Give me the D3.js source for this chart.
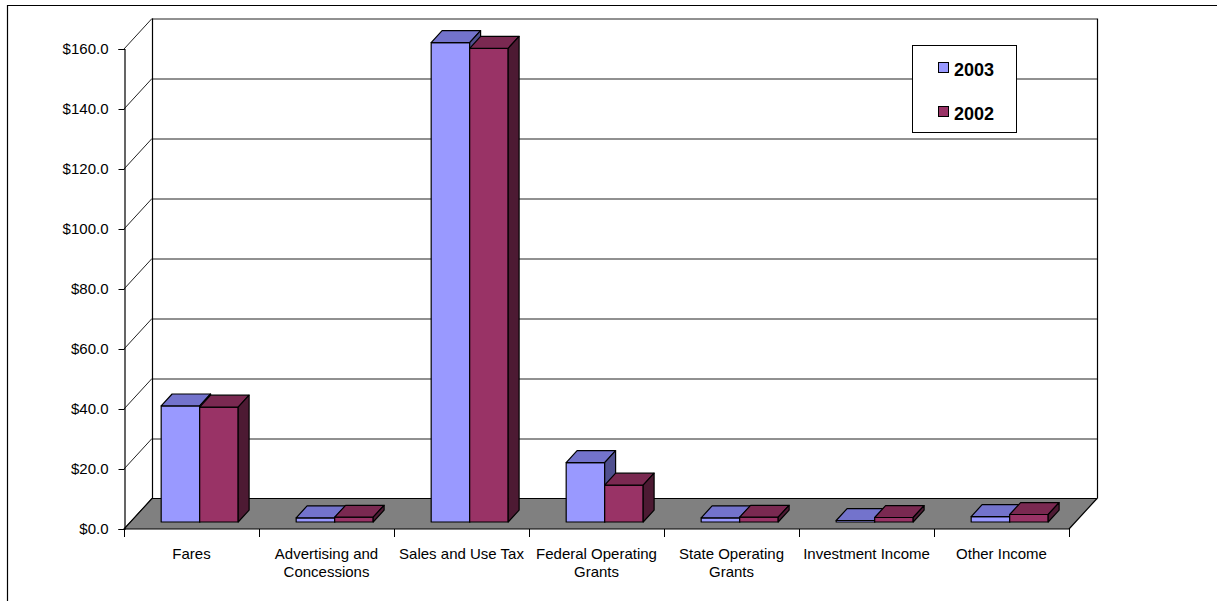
<!DOCTYPE html>
<html>
<head>
<meta charset="utf-8">
<script src="https://cdn.jsdelivr.net/npm/d3@7"></script>
<style>
  html, body { margin: 0; padding: 0; background: #fff; }
  svg { display: block; }
  text { font-family: "Liberation Sans", Arial, sans-serif; fill: #000; }
</style>
</head>
<body>
<svg id="chart" width="1217" height="601"></svg>
<script>
// Operating revenue by source, in millions of dollars
const categories = [
  "Fares",
  "Advertising and\nConcessions",
  "Sales and Use Tax",
  "Federal Operating\nGrants",
  "State Operating\nGrants",
  "Investment Income",
  "Other Income"
];
const seriesNames = ["2003", "2002"];
const values2003 = [38.7, 1.4, 159.8, 19.8, 1.4, 0.5, 1.8];
const values2002 = [38.3, 1.6, 157.9, 12.3, 1.6, 1.5, 2.5];
const yTicks = [0, 20, 40, 60, 80, 100, 120, 140, 160];

const colors = {
  "2003": { front: "#9999FF", top: "#7373CC", side: "#50508F" },
  "2002": { front: "#993366", top: "#7A2951", side: "#4D1A33" }
};

const svg = d3.select("#chart");

// Front plane of the 3D box and the depth offset of the back wall
const x0 = 124, x1 = 1069;
const yBase = 529, yTop = 49;
const DX = 28, DY = 30.5;
const barD0 = 0.23, barD1 = 0.62;   // bar depth span (fraction of box depth)

const x = d3.scaleBand().domain(categories).range([x0, x1]).paddingInner(0).paddingOuter(0);
const xs = d3.scaleBand().domain(seriesNames).range([0, x.bandwidth()])
  .paddingInner(0).paddingOuter(0.753).align(0.53);
const y = d3.scaleLinear().domain([0, 160]).range([yBase, yTop]);

// project (screen x on front plane, value, depth fraction) -> screen point
const P = (px, v, d) => [px + d * DX, y(v) - d * DY];
const poly = pts => pts.map(p => p.join(",")).join(" ");

// Outer frame
svg.append("path")
  .attr("d", "M7.5,601 V5.5 H1217")
  .attr("fill", "none").attr("stroke", "#000").attr("stroke-width", 1.2);

// Back wall and side wall
const wall = svg.append("g");
wall.append("rect")
  .attr("x", x0 + DX).attr("y", y(160) - DY)
  .attr("width", x1 - x0).attr("height", y(0) - y(160))
  .attr("fill", "#fff");

// Gridlines: back wall horizontals and left wall diagonals
yTicks.forEach(t => {
  if (t > 0) {
    wall.append("line")
      .attr("x1", x0 + DX).attr("x2", x1 + DX)
      .attr("y1", y(t) - DY + 0.5).attr("y2", y(t) - DY + 0.5)
      .attr("stroke", "#222").attr("stroke-width", 1);
  }
  wall.append("line")
    .attr("x1", x0).attr("y1", y(t))
    .attr("x2", x0 + DX).attr("y2", y(t) - DY)
    .attr("stroke", "#222").attr("stroke-width", 1);
});
// wall edges
wall.append("line").attr("x1", x0 + DX + 0.5).attr("x2", x0 + DX + 0.5)
  .attr("y1", y(160) - DY).attr("y2", y(0) - DY).attr("stroke", "#000").attr("stroke-width", 1.2);
wall.append("line").attr("x1", x1 + DX + 0.5).attr("x2", x1 + DX + 0.5)
  .attr("y1", y(160) - DY).attr("y2", y(0) - DY).attr("stroke", "#000").attr("stroke-width", 1.2);

// Floor
svg.append("polygon")
  .attr("points", poly([[x0, y(0)], [x0 + DX, y(0) - DY], [x1 + DX, y(0) - DY], [x1, y(0)]]))
  .attr("fill", "#808080").attr("stroke", "#000").attr("stroke-width", 1.2)
  .attr("stroke-linejoin", "round");

// Y axis on the front plane
const yAxis = d3.axisLeft(y).tickValues(yTicks).tickSize(6).tickPadding(10)
  .tickFormat(d => "$" + d.toFixed(1));
const gy = svg.append("g").attr("transform", `translate(${x0 + 0.5},0)`).call(yAxis);
gy.select(".domain").attr("stroke", "#000").attr("stroke-width", 1.2);
gy.selectAll(".tick line").attr("stroke", "#000");
gy.selectAll(".tick text")
  .style("font-family", '"Liberation Sans", Arial, sans-serif')
  .style("font-size", "15px").attr("fill", "#000");

// X axis tick marks at category boundaries
const bounds = categories.map(c => x(c)).concat([x1]);
svg.append("g").selectAll("line").data(bounds).join("line")
  .attr("x1", d => Math.round(d) + 0.5).attr("x2", d => Math.round(d) + 0.5)
  .attr("y1", yBase).attr("y2", yBase + 8)
  .attr("stroke", "#000").attr("stroke-width", 1);

// Category labels (two lines where needed)
const lab = svg.append("g").selectAll("text").data(categories).join("text")
  .attr("x", d => x(d) + x.bandwidth() / 2)
  .attr("y", 559)
  .attr("text-anchor", "middle")
  .style("font-size", "15px");
lab.each(function (d) {
  d3.select(this).selectAll("tspan").data(d.split("\n")).join("tspan")
    .attr("x", x(d) + x.bandwidth() / 2)
    .attr("dy", (l, i) => i === 0 ? 0 : 18)
    .text(l => l);
});

// 3D bars
const bars = [];
categories.forEach((c, i) => {
  bars.push({ cat: c, s: "2003", v: values2003[i] });
  bars.push({ cat: c, s: "2002", v: values2002[i] });
});
const gb = svg.append("g");
bars.forEach(b => {
  const L = x(b.cat) + xs(b.s);
  const R = L + xs.bandwidth();
  const col = colors[b.s];
  const g = gb.append("g").attr("stroke", "#000").attr("stroke-width", 1.2)
    .attr("stroke-linejoin", "round");
  // front face
  g.append("polygon").attr("fill", col.front)
    .attr("points", poly([P(L, 0, barD0), P(R, 0, barD0), P(R, b.v, barD0), P(L, b.v, barD0)]));
  // top face
  g.append("polygon").attr("fill", col.top)
    .attr("points", poly([P(L, b.v, barD0), P(R, b.v, barD0), P(R, b.v, barD1), P(L, b.v, barD1)]));
  // right side face
  g.append("polygon").attr("fill", col.side)
    .attr("points", poly([P(R, 0, barD0), P(R, 0, barD1), P(R, b.v, barD1), P(R, b.v, barD0)]));
});

// Legend
const lg = svg.append("g");
lg.append("rect").attr("x", 912.5).attr("y", 45.5).attr("width", 104).attr("height", 87)
  .attr("fill", "#fff").attr("stroke", "#000").attr("stroke-width", 1);
seriesNames.forEach((s, i) => {
  lg.append("rect").attr("x", 938.5).attr("y", 62.5 + i * 44).attr("width", 10).attr("height", 10)
    .attr("fill", colors[s].front).attr("stroke", "#000").attr("stroke-width", 1);
  lg.append("text").attr("x", 954).attr("y", 75.5 + i * 44)
    .style("font-size", "18px").style("font-weight", "bold").text(s);
});
</script>
</body>
</html>
